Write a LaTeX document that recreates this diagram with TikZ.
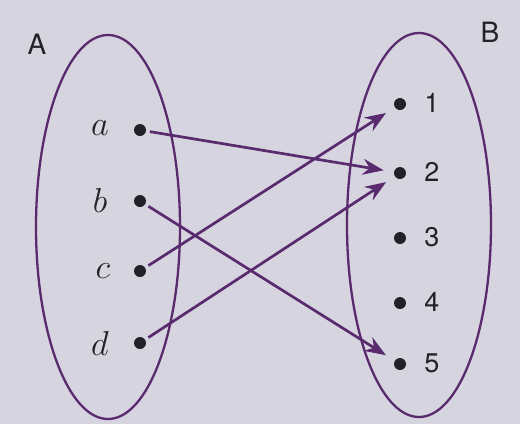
\documentclass[tikz,border=0pt]{standalone}
\usepackage{fontspec}
\newfontfamily\labelsans{TeX Gyre Heros}
\usetikzlibrary{arrows.meta}
\definecolor{paper}{HTML}{D6D5DF}
\definecolor{inkpurple}{HTML}{5A2A6E}
\definecolor{inktext}{HTML}{222128}
\tikzset{
  setoval/.style={draw=inkpurple, line width=1.15pt},
  dotnode/.style={circle, fill=inktext, inner sep=0pt, minimum size=6pt, outer sep=0pt},
  elemlabel/.style={text=inktext, font=\fontsize{17}{20}\selectfont, inner sep=0pt},
  numlabel/.style={text=inktext, font=\labelsans\fontsize{13.5}{15}\selectfont, inner sep=0pt},
  setlabel/.style={text=inktext, font=\labelsans\fontsize{14}{16}\selectfont, inner sep=0pt},
  maparrow/.style={draw=inkpurple, line width=1.35pt, -{Stealth[length=10.5pt, width=8pt, inset=3.5pt]}, shorten <=2pt, shorten >=5.3pt}
}
\begin{document}
\begin{tikzpicture}[x=0.5pt, y=-0.5pt]
\fill[paper] (0,0) rectangle (520,424);
\useasboundingbox (0,0) rectangle (520,424);
% ovals
\draw[setoval] (108,227) ellipse [x radius=72, y radius=192];
\draw[setoval] (419,225) ellipse [x radius=72, y radius=192];
% set labels
\node[setlabel] (A) at (37,44) {A};
\node[setlabel] (B) at (490,32) {B};
% domain
\node[dotnode] (pa) at (140,130) {};
\node[dotnode] (pb) at (140,201) {};
\node[dotnode] (pc) at (140,271) {};
\node[dotnode] (pd) at (140,343) {};
\node[elemlabel] (la) at (100,128) {$a$};
\node[elemlabel] (lb) at (100,200) {$b$};
\node[elemlabel] (lc) at (103,271) {$c$};
\node[elemlabel] (ld) at (100,343) {$d$};
% codomain
\node[dotnode] (p1) at (400,104) {};
\node[dotnode] (p2) at (400,173) {};
\node[dotnode] (p3) at (400,238) {};
\node[dotnode] (p4) at (400,303) {};
\node[dotnode] (p5) at (400,364) {};
\node[numlabel] (l1) at (432,103) {1};
\node[numlabel] (l2) at (432,172) {2};
\node[numlabel] (l3) at (432,237) {3};
\node[numlabel] (l4) at (432,302) {4};
\node[numlabel] (l5) at (432,363) {5};
% mapping
\draw[maparrow] (pa) -- (p2);
\draw[maparrow] (pb) -- (p5);
\draw[maparrow] (pc) -- (p1);
\draw[maparrow] (pd) -- (p2);
\end{tikzpicture}
\end{document}
